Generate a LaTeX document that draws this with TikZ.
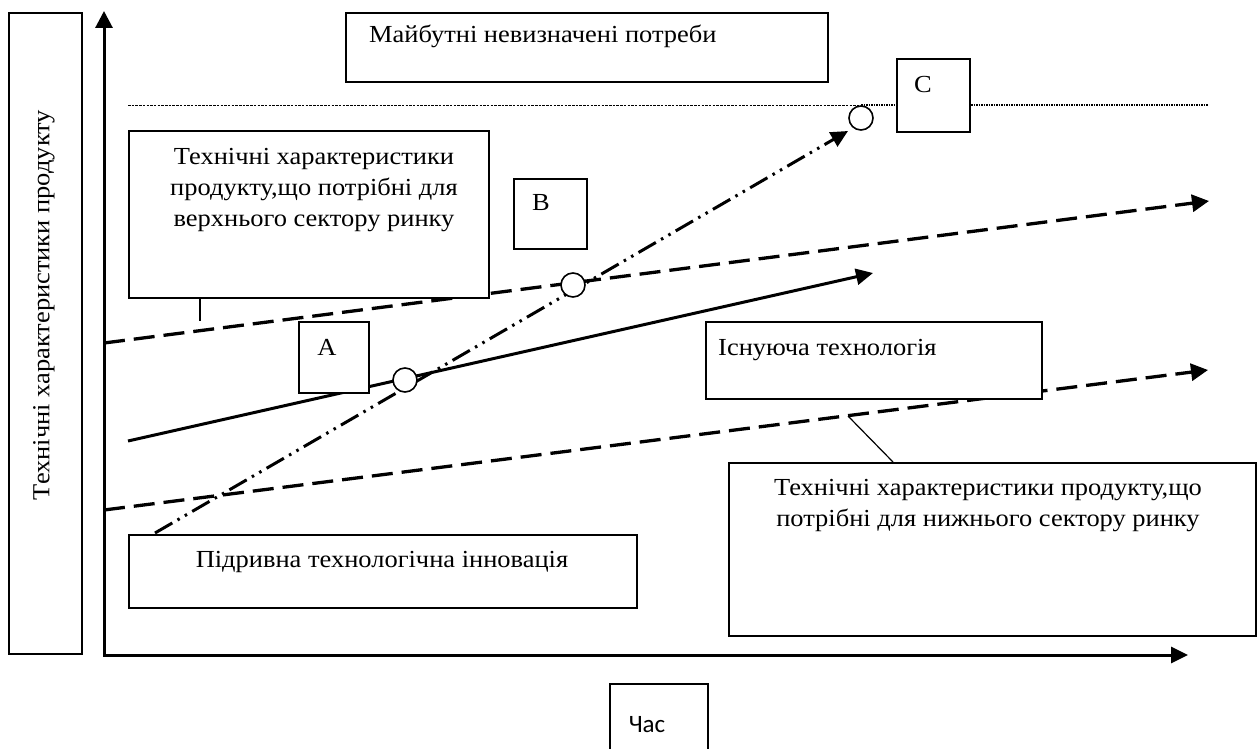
\documentclass[tikz,border=0pt]{standalone}
\usepackage{fontspec}
\setmainfont{Liberation Serif}[FakeStretch=1.08]
\newfontfamily\labelsans{Carlito}
\usetikzlibrary{arrows.meta}
\begin{document}
\begin{tikzpicture}[x=1pt,y=-1pt,
  box/.style={draw, fill=white, line width=1.6pt, inner sep=0pt, anchor=north west},
  txt/.style={inner sep=0pt, font=\fontsize{24.5}{31}\selectfont},
  axisline/.style={line width=3pt, line join=miter,
    {Triangle[width=17pt,length=17pt]}-{Triangle[width=16pt,length=17pt]}},
  need/.style={line width=3.3pt, dash pattern=on 21pt off 9pt,
    -{Triangle[width=17pt,length=17pt]}},
  tech/.style={line width=3pt, -{Triangle[width=16pt,length=17pt]}},
  disrupt/.style={line width=3pt,
    dash pattern=on 20pt off 6pt on 2.5pt off 6pt on 2.5pt off 6pt,
    -{Triangle[width=16pt,length=17pt]}},
  hit/.style={circle, draw, fill=white, line width=1.6pt, minimum size=24pt, inner sep=0pt},
  leader/.style={line width=1.2pt}
]
\useasboundingbox (0,0) rectangle (1258,749);

% vertical axis caption
\node[box, minimum width=73pt, minimum height=641pt] (ylab) at (8,12) {};
\node[txt, rotate=90] (ylabtxt) at (44,305) {Технічні характеристики продукту};

% axes
\coordinate (O) at (104,655);
\coordinate (ytip) at (104,11);
\coordinate (xtip) at (1188,655);
\draw[axisline] (ytip) -- (O) -- (xtip);

% level of future needs
\coordinate (dl) at (128,105);
\coordinate (dm) at (861,105);
\coordinate (dr) at (1208,105);
\draw[line width=0.8pt, dash pattern=on 2.5pt off 1.2pt] (dl) -- (dm);
\draw[line width=1.4pt, dash pattern=on 1.5pt off 1pt] (dm) -- (dr);

% trajectories
\coordinate (upS) at (104,343);
\coordinate (upE) at (1209,201);
\coordinate (loS) at (104,510);
\coordinate (loE) at (1208,370);
\coordinate (teS) at (128,441);
\coordinate (teE) at (873,273);
\coordinate (diS) at (155,533);
\coordinate (diE) at (848,131);
\draw[need] (upS) -- (upE);
\draw[need] (loS) -- (loE);
\draw[tech] (teS) -- (teE);
\draw[disrupt] (diS) -- (diE);

% text boxes
\node[box, minimum width=482pt, minimum height=69pt] (future) at (345,12) {};
\node[txt, anchor=base west] (futuretxt) at (369,43) {Майбутні невизначені потреби};

\node[box, minimum width=360pt, minimum height=167pt] (upper) at (128,130) {};
\node[txt, align=center] (uppertxt) at (314,190)
  {Технічні характеристики\\продукту,що потрібні для\\верхнього сектору ринку};
\coordinate (upperTap) at (200,321);
\draw[leader] (upper.south -| upperTap) -- (upperTap);

\node[box, minimum width=73pt, minimum height=70pt] (Bbox) at (513,178) {};
\node[txt] (Btxt) at (541,203) {B};

\node[box, minimum width=70pt, minimum height=71pt] (Abox) at (298,321) {};
\node[txt] (Atxt) at (327,347) {A};

\node[box, minimum width=73pt, minimum height=73pt] (Cbox) at (896,58) {};
\node[txt] (Ctxt) at (923,85) {C};

\node[box, minimum width=336pt, minimum height=77pt] (existing) at (705,321) {};
\node[txt, anchor=west] (existingtxt) at (718,350) {Існуюча технологія};

\node[box, minimum width=527pt, minimum height=173pt] (lower) at (728,462) {};
\node[txt, align=center] (lowertxt) at (988,506)
  {Технічні характеристики продукту,що\\потрібні для нижнього сектору ринку};
\coordinate (lowTap) at (848,416);
\coordinate (lowFoot) at (893,462);
\draw[leader] (lowTap) -- (lowFoot);

\node[box, minimum width=508pt, minimum height=73pt] (disruptive) at (128,534) {};
\node[txt] (disruptivetxt) at (382,562) {Підривна технологічна інновація};

\node[box, minimum width=98pt, minimum height=80pt] (time) at (609,683) {};
\node[inner sep=0pt, font=\labelsans\fontsize{25}{30}\selectfont] (timetxt) at (647,725) {Час};

% intersection markers
\node[hit] (cA) at (405,380) {};
\node[hit] (cB) at (573,285) {};
\node[hit] (cC) at (861,118) {};
\end{tikzpicture}
\end{document}
